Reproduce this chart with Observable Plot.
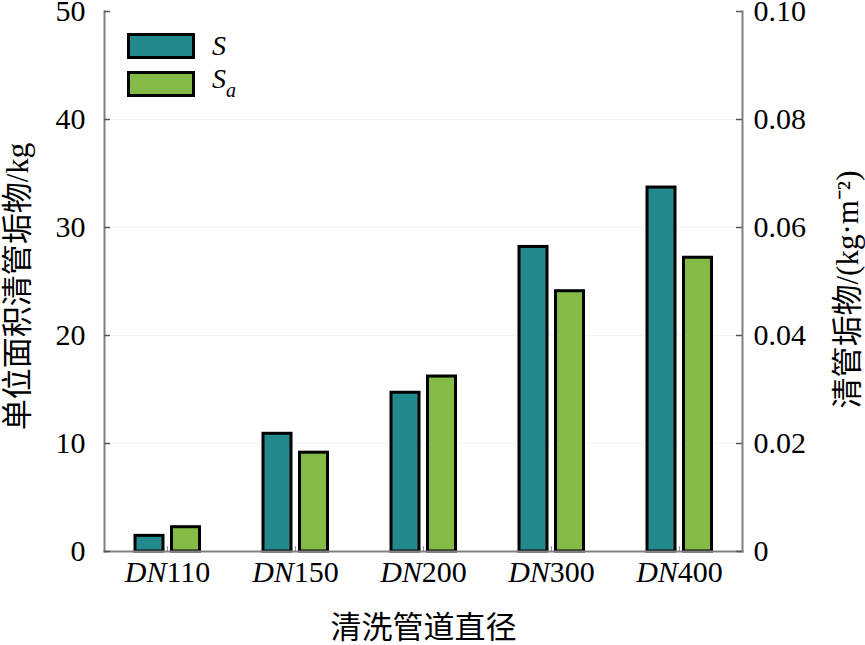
<!DOCTYPE html>
<html>
<head>
<meta charset="utf-8">
<script src="https://cdn.jsdelivr.net/npm/d3@7"></script>
<script src="https://cdn.jsdelivr.net/npm/@observablehq/plot@0.6"></script>
<style>
  html, body { margin: 0; padding: 0; background: #fff; }
  #wrap { position: relative; width: 865px; height: 645px; }
  .legend { position: absolute; left: 127px; top: 33px; font-family: "Liberation Serif", serif; font-size: 28px; font-style: italic; color: #000; }
  .row { display: flex; align-items: center; height: 26px; margin-bottom: 12px; }
  .sw { width: 68px; height: 26px; box-sizing: border-box; border: 3px solid #000; }
  .lab { margin-left: 17px; line-height: 26px; }
  .lab sub { font-size: 20px; vertical-align: -9px; }
</style>
</head>
<body>
<div id="wrap"></div>
<script>
const categories = ["DN110", "DN150", "DN200", "DN300", "DN400"];
const sValues = [1.45, 10.9, 14.7, 28.2, 33.7];
const saValues = [2.25, 9.15, 16.2, 24.1, 27.2];
const leftTicks = [0, 10, 20, 30, 40, 50];
const rightTicks = [0, 0.02, 0.04, 0.06, 0.08, 0.10];
const rightTickLabels = ["0", "0.02", "0.04", "0.06", "0.08", "0.10"];
const seriesNames = ["S", "Sa"];
const xTitle = "清洗管道直径";
const leftTitle = "单位面积清管垢物/kg";
const rightTitle = "清管垢物/(kg·m⁻²)";

const teal = "#228a8c";
const green = "#83bb46";
const axisGray = "#808080";
const rightToLeft = 50 / 0.10;

const rows = categories.map((c, i) => ({cat: c, S: sValues[i], Sa: saValues[i]}));

const W = 865, H = 645, mL = 104, mR = 123, mT = 11, mB = 94;
const fw = W - mL - mR, fh = H - mT - mB;
const font = "'Liberation Serif', 'Noto Sans CJK SC', serif";
const cjk = "'Liberation Serif', 'Noto Sans CJK SC', sans-serif";

const chart = Plot.plot({
  width: W, height: H,
  marginLeft: mL, marginRight: mR, marginTop: mT, marginBottom: mB,
  style: {fontFamily: font, fontSize: "30px", color: "#000", background: "#fff", overflow: "visible"},
  x: {domain: categories, range: [102, 743], padding: 0},
  y: {domain: [0, 50]},
  marks: [
    Plot.ruleY(leftTicks.slice(1, -1), {y: d => d, stroke: "#eef4f9", strokeWidth: 1}),
    Plot.barY(rows, {x: "cat", y: "S", fill: teal, stroke: "#000", strokeWidth: 3, insetLeft: 32, insetRight: 68}),
    Plot.barY(rows, {x: "cat", y: "Sa", fill: green, stroke: "#000", strokeWidth: 3, insetLeft: 68.5, insetRight: 31.5}),
    Plot.ruleX(categories, {x: d => d, insetTop: fh - 5, stroke: "#9a9a9a", strokeWidth: 1}),
    Plot.frame({anchor: "left", stroke: axisGray, strokeWidth: 2}),
    Plot.frame({anchor: "right", stroke: axisGray, strokeWidth: 2}),
    Plot.frame({anchor: "bottom", stroke: axisGray, strokeWidth: 2}),
    Plot.ruleY(leftTicks, {y: d => d, insetRight: fw - 6, stroke: "#555", strokeWidth: 1.5}),
    Plot.ruleY(leftTicks, {y: d => d, insetLeft: fw - 6, stroke: "#555", strokeWidth: 1.5}),
    Plot.axisY({ticks: leftTicks, tickSize: 0, tickPadding: 19, anchor: "left", label: null, fontSize: 30}),
    Plot.text(rightTicks, {y: d => d * rightToLeft, text: (d, i) => rightTickLabels[i], frameAnchor: "right", textAnchor: "start", dx: 11, fontSize: 30}),
    Plot.axisX({tickSize: 0, tickPadding: 9, anchor: "bottom", label: null, fontSize: 30}),
    Plot.text([xTitle], {frameAnchor: "bottom", textAnchor: "middle", lineAnchor: "middle", dy: 77, fontSize: 31, fontFamily: cjk}),
    Plot.text([leftTitle], {frameAnchor: "left", textAnchor: "middle", lineAnchor: "middle", dx: -86, dy: 5, rotate: -90, fontSize: 31, fontFamily: cjk}),
    Plot.text([rightTitle], {frameAnchor: "right", textAnchor: "middle", lineAnchor: "middle", dx: 106, dy: 8, rotate: -90, fontSize: 31, fontFamily: cjk})
  ]
});

// italic "DN" prefix in x tick labels
d3.select(chart).selectAll("g[aria-label='x-axis tick label'] text").each(function () {
  const t = d3.select(this);
  const s = t.text();
  const m = s.match(/^([A-Za-z]+)(.*)$/);
  if (!m) return;
  t.text("");
  t.append("tspan").attr("font-style", "italic").text(m[1]);
  t.append("tspan").text(m[2]);
});

const wrap = document.getElementById("wrap");
wrap.appendChild(chart);

const legend = document.createElement("div");
legend.className = "legend";
const colors = [teal, green];
seriesNames.forEach((name, i) => {
  const row = document.createElement("div");
  row.className = "row";
  const sw = document.createElement("div");
  sw.className = "sw";
  sw.style.background = colors[i];
  const lab = document.createElement("div");
  lab.className = "lab";
  lab.innerHTML = name.length > 1 ? name[0] + "<sub>" + name.slice(1) + "</sub>" : name;
  row.appendChild(sw);
  row.appendChild(lab);
  legend.appendChild(row);
});
wrap.appendChild(legend);
</script>
</body>
</html>
